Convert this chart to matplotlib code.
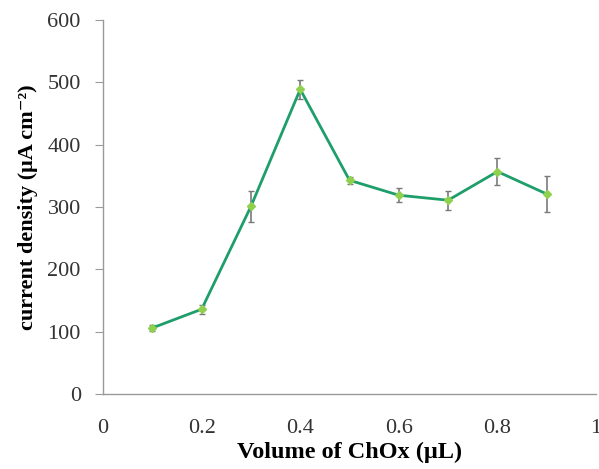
import matplotlib.pyplot as plt

plt.rcParams['font.family'] = ['Liberation Serif', 'DejaVu Serif']

# ChOx loading vs. response current
volume = [0.1, 0.2, 0.3, 0.4, 0.5, 0.6, 0.7, 0.8, 0.9]
current = [106, 136, 301, 489, 343, 319, 311, 357, 321]
err = [5, 7, 25, 15, 6, 11, 15, 22, 29]

fig = plt.figure(figsize=(5.99, 4.69), dpi=100)
ax = fig.add_axes([0.172, 0.160, 0.823, 0.797])

ax.errorbar(volume, current, yerr=err, color="#1e9e6a", lw=2.0,
            marker="D", markersize=4.5, markerfacecolor="#8fd14f",
            markeredgecolor="#8fd14f", ecolor="#7a7a7a", elinewidth=1.2,
            capsize=2.5, capthick=1.0, zorder=3)

ax.set_xlim(0, 1)
ax.set_ylim(0, 600)
ax.set_xticks([0, 0.2, 0.4, 0.6, 0.8, 1])
ax.set_xticklabels(["0", "0.2", "0.4", "0.6", "0.8", "1"])
ax.set_yticks(range(0, 601, 100))

for side in ["top", "right"]:
    ax.spines[side].set_visible(False)
for side in ["left", "bottom"]:
    ax.spines[side].set_color("#9a9a9a")
    ax.spines[side].set_linewidth(1.0)

ax.tick_params(axis="y", direction="out", length=6, color="#9a9a9a",
               labelsize=16, labelcolor="#333333", pad=10)
ax.tick_params(axis="x", direction="in", length=0, color="#9a9a9a",
               labelsize=16, labelcolor="#333333", pad=18)

ax.set_xlabel("Volume of ChOx (μL)", fontsize=17.5, fontweight="bold", labelpad=3)
ax.set_ylabel("current density (μA cm⁻²)", fontsize=16,
              fontweight="bold", labelpad=7)

fig.savefig("out.png", dpi=100)
